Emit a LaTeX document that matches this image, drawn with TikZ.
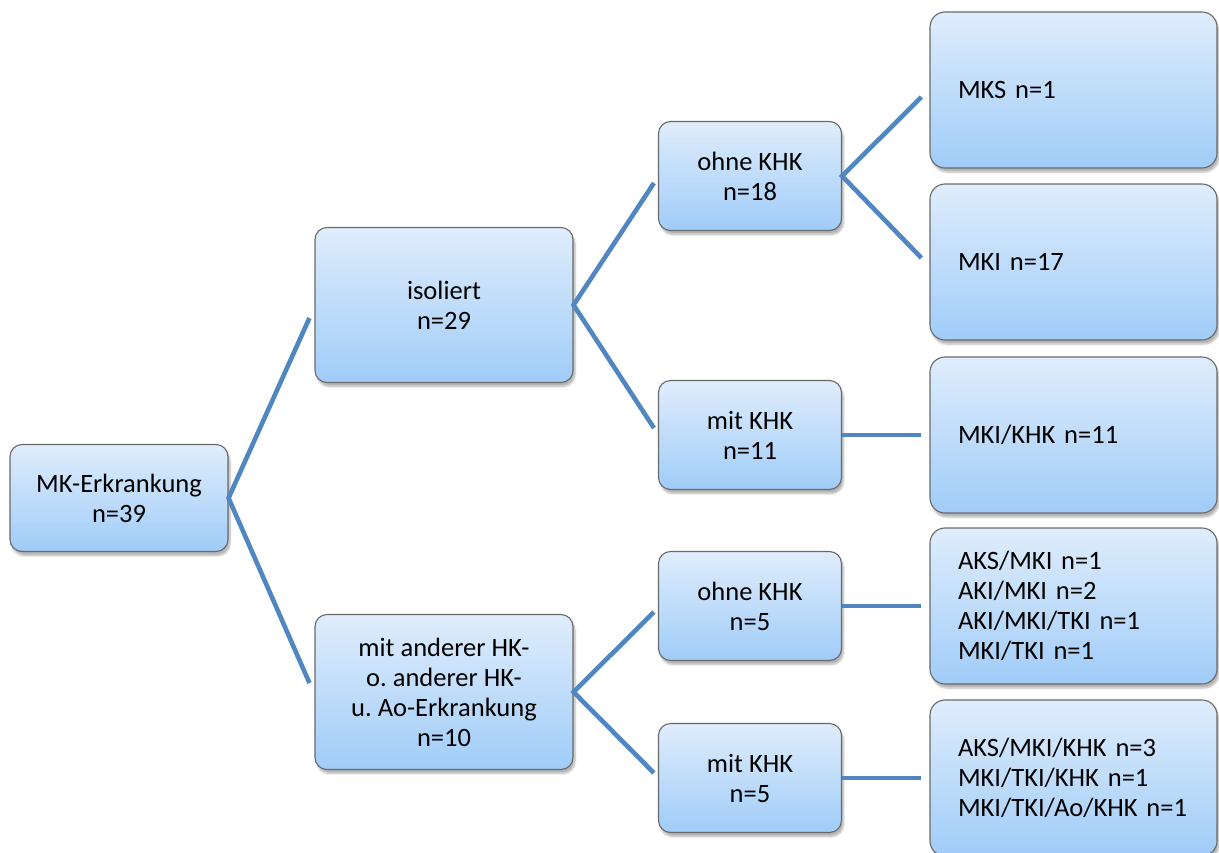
\documentclass[tikz,border=0pt]{standalone}
\usepackage{fontspec}
\setmainfont{Carlito}
\usetikzlibrary{shadows.blur}

\definecolor{linkblue}{RGB}{80,135,192}
\definecolor{boxtop}{RGB}{223,237,252}
\definecolor{boxbot}{RGB}{160,204,248}
\definecolor{boxedge}{RGB}{105,105,105}

\tikzset{
  box/.style={draw=boxedge, line width=1.1pt, rounded corners=12pt,
    top color=boxtop, bottom color=boxbot,
    blur shadow={shadow xshift=2pt, shadow yshift=-4pt, shadow blur steps=6, shadow opacity=30},
    align=center, inner sep=0pt, font=\fontsize{26.5}{30}\selectfont},
  rootbox/.style={box, minimum width=218pt, minimum height=107pt},
  midbox/.style={box, minimum width=258pt, minimum height=155pt},
  subbox/.style={box, minimum width=183pt, minimum height=109pt},
  leafbox/.style={box, rounded corners=15pt, minimum width=287pt, minimum height=156pt,
    inner xsep=28pt, text width=231pt, align=left},
  link/.style={draw=linkblue, line width=4.6pt}
}

\begin{document}
\frenchspacing
\begin{tikzpicture}[x=1pt, y=-1pt]
  \useasboundingbox (0,0) rectangle (1219,852);

  % level 0
  \node[rootbox] (root) at (119,498) {MK-Erkrankung\\n=39};

  % level 1
  \node[midbox] (iso) at (444,305) {isoliert\\n=29};
  \node[midbox] (mit) at (444,692) {mit anderer HK-\\o. anderer HK-\\u. Ao-Erkrankung\\n=10};

  % level 2
  \node[subbox] (iso-o) at (750,176) {ohne KHK\\n=18};
  \node[subbox] (iso-m) at (750,435) {mit KHK\\n=11};
  \node[subbox] (mit-o) at (750,606) {ohne KHK\\n=5};
  \node[subbox] (mit-m) at (750,778) {mit KHK\\n=5};

  % level 3
  \node[leafbox] (mks) at (1073.5,90) {MKS n=1};
  \node[leafbox] (mki) at (1073.5,262) {MKI n=17};
  \node[leafbox] (mkikhk) at (1073.5,435) {MKI/KHK n=11};
  \node[leafbox] (combo) at (1073.5,606) {AKS/MKI n=1\\AKI/MKI n=2\\AKI/MKI/TKI n=1\\MKI/TKI n=1};
  \node[leafbox] (combokhk) at (1073.5,778) {AKS/MKI/KHK n=3\\MKI/TKI/KHK n=1\\MKI/TKI/Ao/KHK n=1};

  % connectors
  \draw[link] ([shift={(-5,13)}]iso.west) -- (root.east) -- ([shift={(-5,-9)}]mit.west);
  \draw[link] ([shift={(-4,7)}]iso-o.west) -- (iso.east) -- ([shift={(-4,-7)}]iso-m.west);
  \draw[link] ([shift={(-4,6)}]mit-o.west) -- (mit.east) -- ([shift={(-4,-5)}]mit-m.west);
  \draw[link] ([shift={(-8,7)}]mks.west) -- (iso-o.east) -- ([shift={(-8,-4)}]mki.west);
  \draw[link] (iso-m.east) -- ([xshift=-8pt]mkikhk.west);
  \draw[link] (mit-o.east) -- ([xshift=-8pt]combo.west);
  \draw[link] (mit-m.east) -- ([xshift=-8pt]combokhk.west);
\end{tikzpicture}
\end{document}
